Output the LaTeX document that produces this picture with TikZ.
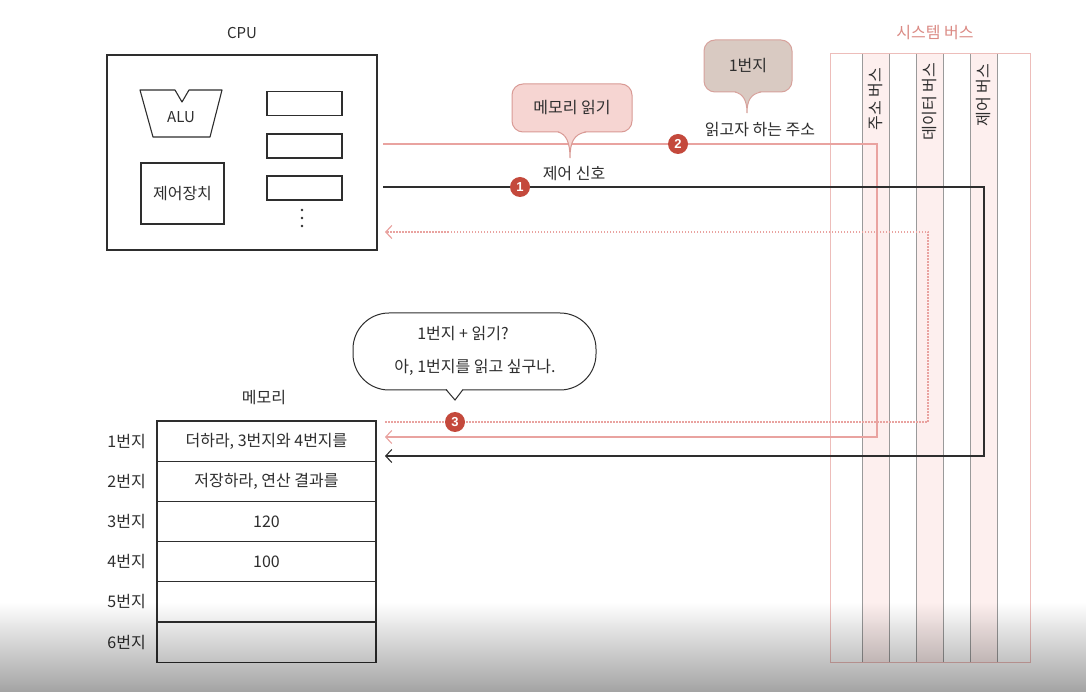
\documentclass[tikz,border=0pt]{standalone}
\usepackage{fontspec}
\setmainfont{Noto Sans CJK KR}
\newfontfamily\numfont{Liberation Sans}
\usetikzlibrary{arrows.meta,fadings}
\definecolor{ink}{HTML}{2E2E2E}
\definecolor{pinkline}{HTML}{E9A3A0}
\definecolor{pinkborder}{HTML}{EDBDBA}
\definecolor{lanefill}{HTML}{FDEFEE}
\definecolor{lanegray}{HTML}{9A9A9A}
\definecolor{badge}{HTML}{C4493C}
\definecolor{bubpinkfill}{HTML}{F6D5D2}
\definecolor{bubpinkdraw}{HTML}{D99A95}
\definecolor{bubbrownfill}{HTML}{D9CAC2}
\definecolor{bubbrowndraw}{HTML}{D7A29C}
\definecolor{titlepink}{HTML}{DB8A84}
\tikzfading[name=fadeup, top color=transparent!100, bottom color=transparent!64]
\tikzset{
  txt/.style={text=ink, font=\fontsize{16}{18}\selectfont, inner sep=0pt},
  box/.style={draw=ink, line width=1.1pt, inner sep=0pt, outer sep=0pt},
  cell/.style={draw=ink, line width=1.1pt, minimum width=219pt, minimum height=40.2pt, inner sep=0pt, outer sep=0pt, text=ink, font=\fontsize{16}{18}\selectfont},
  badgestyle/.style={circle, fill=badge, text=white, minimum size=20pt, inner sep=0pt, font=\numfont\bfseries\fontsize{13}{13}\selectfont},
  pinkarrow/.style={draw=pinkline, line width=1.1pt, -{Straight Barb[length=6pt,width=13pt]}},
  blackarrow/.style={draw=ink, line width=1.1pt, -{Straight Barb[length=6pt,width=13pt]}},
  dotarrow/.style={draw=pinkline, line width=1.2pt, dash pattern=on 1.5pt off 1.5pt, -{Straight Barb[length=6pt,width=13pt]}},
}
\begin{document}
\begin{tikzpicture}[x=1pt,y=-1pt]
\useasboundingbox (0,0) rectangle (1088,692);
\fill[white] (0,0) rectangle (1088,692);

% ---------- system bus ----------
\node[text=titlepink, font=\fontsize{16}{18}\selectfont, inner sep=0pt] (bustitle) at (935,33) {시스템 버스};
\fill[lanefill] (862,54) rectangle (889,662);
\fill[lanefill] (916,54) rectangle (943,662);
\fill[lanefill] (970,54) rectangle (997,662);
\draw[pinkborder, line width=1pt] (830,54) rectangle (1030,662);
\foreach \xx in {862,889,916,943,970,997}
  \draw[lanegray, line width=1pt] (\xx,54) -- (\xx,662);
\node[txt, rotate=90, anchor=east] (addrbus) at (875.5,68) {주소 버스};
\node[txt, rotate=90, anchor=east] (databus) at (929.5,63) {데이터 버스};
\node[txt, rotate=90, anchor=east] (ctrlbus) at (983.5,64) {제어 버스};

% ---------- CPU ----------
\node[txt, font=\fontsize{15}{17}\selectfont] (cputitle) at (242,33) {CPU};
\node[box, minimum width=270pt, minimum height=195pt] (cpu) at (242,152.5) {};
\draw[ink, line width=1.1pt, line join=round] (140,90) -- (175,90) -- (182,102) -- (189,90) -- (222,90) -- (210,137) -- (153,137) -- cycle;
\node[txt, font=\fontsize{15}{17}\selectfont] (alu) at (181,117) {ALU};
\node[box, minimum width=83pt, minimum height=61pt, text=ink, font=\fontsize{16}{18}\selectfont] (cu) at (182.5,193.5) {제어장치};
\node[box, minimum width=75pt, minimum height=24pt] (r1) at (304.5,103.5) {};
\node[box, minimum width=75pt, minimum height=24pt] (r2) at (304.5,146) {};
\node[box, minimum width=75pt, minimum height=24pt] (r3) at (304.5,188) {};
\foreach \yy in {210,218,226} \fill[ink] (302,\yy) circle (1.4pt);

% ---------- memory ----------
\node[txt] (memtitle) at (264,398) {메모리};
\node[cell] (m1) at (266.5,441.1) {더하라, 3번지와 4번지를};
\node[cell, anchor=north] (m2) at (m1.south) {저장하라, 연산 결과를};
\node[cell, anchor=north] (m3) at (m2.south) {120};
\node[cell, anchor=north] (m4) at (m3.south) {100};
\node[cell, anchor=north] (m5) at (m4.south) {};
\node[cell, anchor=north] (m6) at (m5.south) {};
\foreach \i in {1,...,6}
  \node[txt, anchor=east] (lab\i) at ([xshift=-11pt]m\i.west) {{\i}번지};

% ---------- connectors ----------
\coordinate (a1) at (383,144);
\coordinate (a2) at (877,144);
\coordinate (a3) at (877,437);
\coordinate (a4) at (385,437);
\draw[pinkarrow] (a1) -- (a2) -- (a3) -- (a4);

\coordinate (c1) at (383,187);
\coordinate (c2) at (984,187);
\coordinate (c3) at (984,456);
\coordinate (c4) at (385,456);
\draw[blackarrow] (c1) -- (c2) -- (c3) -- (c4);

\coordinate (d1) at (385,422);
\coordinate (d2) at (928,422);
\coordinate (d3) at (928,232);
\coordinate (d4) at (385,232);
\draw[dotarrow] (d1) -- (d2) -- (d3) -- (d4);

\node[badgestyle] (n1) at (520,187) {1};
\node[badgestyle] (n2) at (678,144) {2};
\node[badgestyle] (n3) at (455,422) {3};

% ---------- bubbles ----------
\node[draw=bubpinkdraw, fill=bubpinkfill, line width=1pt, rounded corners=11pt, minimum width=120pt, minimum height=48pt, txt] (b1) at (572,108) {메모리 읽기};
\fill[bubpinkfill] (558,131) .. controls (566,134) and (570,142) .. (570,158) .. controls (570,142) and (574,134) .. (586,131) -- cycle;
\draw[bubpinkdraw, line width=1pt] (558,132) .. controls (566,134) and (570,142) .. (570,158) .. controls (570,142) and (574,134) .. (586,132);
\node[txt] (ctrlsig) at (574,174) {제어 신호};

\node[draw=bubbrowndraw, fill=bubbrownfill, line width=1pt, rounded corners=11pt, minimum width=88pt, minimum height=52pt, txt] (b2) at (748,66) {1번지};
\fill[bubbrownfill] (735,91) .. controls (743,94) and (747,100) .. (747,113) .. controls (747,100) and (751,94) .. (761,91) -- cycle;
\draw[bubbrowndraw, line width=1pt] (735,92) .. controls (743,94) and (747,100) .. (747,113) .. controls (747,100) and (751,94) .. (761,92);
\node[txt] (addrread) at (760,130) {읽고자 하는 주소};

\node[draw=ink, fill=white, line width=1pt, rounded corners=36pt, minimum width=243pt, minimum height=77pt] (b3) at (474.5,351.5) {};
\fill[white] (446,388) -- (455,400) -- (464,388) -- cycle;
\draw[ink, line width=1pt] (446,389.5) -- (455,400) -- (463,389.5);
\node[txt] (q1) at (463,334) {1번지 + 읽기?};
\node[txt] (q2) at (475,367) {아, 1번지를 읽고 싶구나.};

% ---------- bottom video shade ----------
\fill[black, path fading=fadeup] (0,602) rectangle (1088,692);
\end{tikzpicture}
\end{document}
